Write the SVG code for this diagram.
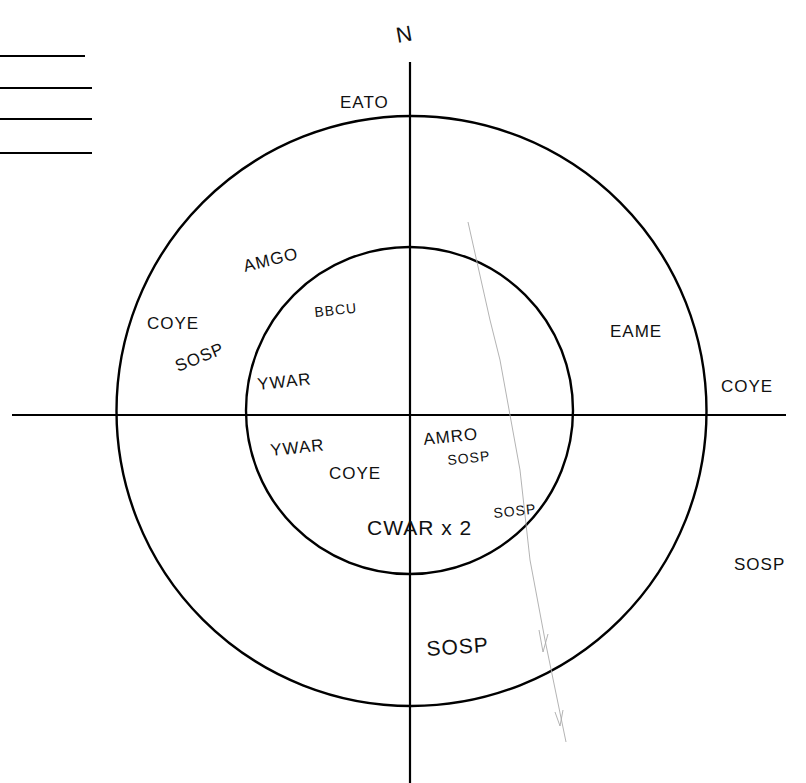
<svg xmlns="http://www.w3.org/2000/svg" width="806" height="783" viewBox="0 0 806 783">
<style>
.ln{stroke:#000;stroke-width:2.2;fill:none}
.ring{stroke:#000;stroke-width:2.4;fill:none}
.pen{stroke:#aaa;stroke-width:0.9;fill:none}
.t{font-family:"Liberation Sans",Arial,sans-serif;font-size:17px;fill:#111;letter-spacing:1px}
.big{font-size:21px}
.sm{font-size:14px}
</style>
<rect width="806" height="783" fill="#fff"/>
<g id="legend">
<line class="ln" x1="0" y1="56" x2="85" y2="56"/>
<line class="ln" x1="0" y1="88" x2="92" y2="88"/>
<line class="ln" x1="0" y1="119" x2="92" y2="119"/>
<line class="ln" x1="0" y1="153" x2="92" y2="153"/>
</g>
<g id="axes">
<line class="ln" x1="410" y1="62" x2="410" y2="783"/>
<line class="ln" x1="12" y1="415" x2="786" y2="415"/>
</g>
<g id="outer-ring"><circle class="ring" cx="411.5" cy="411" r="295"/></g>
<g id="inner-ring"><circle class="ring" cx="409.5" cy="410.5" r="163.5"/></g>
<g id="pencil">
<polyline class="pen" points="468,222 490,320 500,360 510,415 520,470 530,560 545,640 566,742"/>
<polyline class="pen" points="539,630 543,652 548,634"/>
<polyline class="pen" points="555,712 560,726 563,710"/>
</g>
<g id="labels">
<text class="t" x="396" y="42" style="font-size:22px;font-weight:300" transform="rotate(-10 403 34)">N</text>
<text class="t" x="340" y="108">EATO</text>
<text class="t" x="245" y="272" transform="rotate(-14 245 272)">AMGO</text>
<text class="t" x="147" y="329">COYE</text>
<text class="t" x="178" y="372" transform="rotate(-22 178 372)">SOSP</text>
<text class="t sm" x="315" y="317" transform="rotate(-6 315 317)">BBCU</text>
<text class="t" x="258" y="390" transform="rotate(-6 258 390)">YWAR</text>
<text class="t" x="610" y="337">EAME</text>
<text class="t" x="721" y="392">COYE</text>
<text class="t" x="271" y="456" transform="rotate(-6 271 456)">YWAR</text>
<text class="t" x="329" y="479">COYE</text>
<text class="t" x="424" y="445" transform="rotate(-6 424 445)">AMRO</text>
<text class="t sm" x="448" y="465" transform="rotate(-6 448 465)">SOSP</text>
<text class="t big" x="367" y="535">CWAR x 2</text>
<text class="t sm" x="494" y="518" transform="rotate(-6 494 518)">SOSP</text>
<text class="t" x="734" y="570">SOSP</text>
<text class="t big" x="427" y="656" transform="rotate(-4 427 656)">SOSP</text>
</g>
</svg>
